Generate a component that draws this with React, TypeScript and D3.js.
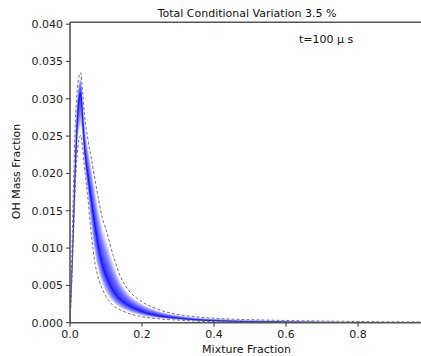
import React from "react";
import * as d3 from "d3";

const zGrid = [0, 0.005, 0.01, 0.015, 0.02, 0.025, 0.03, 0.035, 0.04, 0.05, 0.06, 0.07, 0.08, 0.09, 0.1, 0.12, 0.14, 0.16, 0.18, 0.2, 0.25, 0.3, 0.35, 0.4, 0.5, 0.6, 0.7, 0.8, 0.9, 1.0];
const meanOH = [0, 0.006, 0.013, 0.0205, 0.0265, 0.03, 0.0307, 0.0275, 0.0238, 0.0197, 0.0162, 0.0128, 0.0099, 0.0078, 0.0063, 0.0043, 0.0031, 0.0024, 0.0019, 0.0015, 0.0009, 0.0006, 0.00038, 0.00026, 0.00013, 0.00007, 0.00004, 0.00002, 0.00001, 0];
const upperOH = [0, 0.009, 0.019, 0.027, 0.031, 0.033, 0.0335, 0.031, 0.028, 0.0245, 0.0218, 0.019, 0.0163, 0.014, 0.0125, 0.009, 0.0062, 0.0045, 0.0035, 0.0028, 0.0017, 0.0011, 0.0008, 0.0006, 0.0004, 0.0003, 0.00022, 0.00016, 0.00012, 0.0001];
const lowerOH = [0, 0.0055, 0.012, 0.0185, 0.0225, 0.0245, 0.0251, 0.0235, 0.021, 0.0165, 0.0115, 0.0078, 0.0058, 0.0045, 0.0035, 0.0023, 0.0017, 0.0013, 0.001, 0.0008, 0.0005, 0.00035, 0.00022, 0.00015, 0.00008, 0.00004, 0.00002, 0.00001, 0.000005, 0];
const xTicks = [0, 0.2, 0.4, 0.6, 0.8];
const yTicks = [0, 0.005, 0.01, 0.015, 0.02, 0.025, 0.03, 0.035, 0.04];
const titleText = "Total Conditional Variation 3.5 %";
const timeText = "t=100 \u03bc s";
const xLabel = "Mixture Fraction";
const yLabel = "OH Mass Fraction";

export default function App() {
  const W = 421, H = 356;
  const left = 70, right = 430, top = 22.3, bottom = 322.7;
  const x = d3.scaleLinear().domain([0, 1]).range([left, right]);
  const y = d3.scaleLinear().domain([0, 0.04025]).range([bottom, top]);
  const idx = d3.range(zGrid.length);
  const N = 22;
  const layers = d3.range(1, N + 1).map((k) => {
    const f = 0.8 * Math.pow(k / N, 1.3);
    const area = d3
      .area<number>()
      .x((i) => x(zGrid[i]))
      .y0((i) => y(meanOH[i] - f * (meanOH[i] - lowerOH[i])))
      .y1((i) => y(meanOH[i] + f * (upperOH[i] - meanOH[i])))
      .curve(d3.curveMonotoneX);
    return area(idx) as string;
  });
  const line = (arr: number[]) =>
    d3
      .line<number>()
      .x((i) => x(zGrid[i]))
      .y((i) => y(arr[i]))
      .curve(d3.curveMonotoneX)(idx) as string;
  const font = "DejaVu Sans, sans-serif";
  return (
    <svg width={W} height={H} style={{ position: "absolute", left: 0, top: 0, background: "#fff" }} fontFamily={font}>
      <defs>
        <clipPath id="plotclip">
          <rect x={left} y={top} width={right - left} height={bottom - top} />
        </clipPath>
      </defs>
      <g clipPath="url(#plotclip)">
        {layers.map((d, i) => (
          <path key={i} d={d} fill="#0000ff" fillOpacity={0.075} stroke="none" />
        ))}
        <path d={line(meanOH)} fill="none" stroke="#0000ff" strokeWidth={1} strokeOpacity={0.6} />
        <path d={line(upperOH)} fill="none" stroke="#666" strokeWidth={0.9} strokeDasharray="3,2" />
        <path d={line(lowerOH)} fill="none" stroke="#666" strokeWidth={0.9} strokeDasharray="3,2" />
      </g>
      {/* spines */}
      <line x1={left} x2={left} y1={top} y2={bottom} stroke="#555" strokeWidth={1.6} />
      <line x1={left} x2={right} y1={top} y2={top} stroke="#555" strokeWidth={1.6} />
      <line x1={left} x2={right} y1={bottom} y2={bottom} stroke="#555" strokeWidth={1.6} />
      {/* y ticks */}
      {yTicks.map((t) => (
        <g key={"y" + t}>
          <line x1={left - 4} x2={left} y1={y(t)} y2={y(t)} stroke="#333" strokeWidth={1} />
          <text x={left - 7} y={y(t) + 4} fontSize={11} textAnchor="end" fill="#222">
            {d3.format(".3f")(t)}
          </text>
        </g>
      ))}
      {/* x ticks */}
      {xTicks.map((t) => (
        <g key={"x" + t}>
          <line x1={x(t)} x2={x(t)} y1={bottom} y2={bottom + 4} stroke="#333" strokeWidth={1} />
          <text x={x(t)} y={338} fontSize={11} textAnchor="middle" fill="#222">
            {d3.format(".1f")(t)}
          </text>
        </g>
      ))}
      <text x={247} y={16.5} fontSize={11} textAnchor="middle" fill="#111">
        {titleText}
      </text>
      <text x={326} y={42.5} fontSize={11} textAnchor="middle" fill="#111">
        {timeText}
      </text>
      <text x={246.5} y={353} fontSize={11} textAnchor="middle" fill="#111">
        {xLabel}
      </text>
      <text transform="translate(20,171.5) rotate(-90)" fontSize={11} textAnchor="middle" fill="#111">
        {yLabel}
      </text>
    </svg>
  );
}
